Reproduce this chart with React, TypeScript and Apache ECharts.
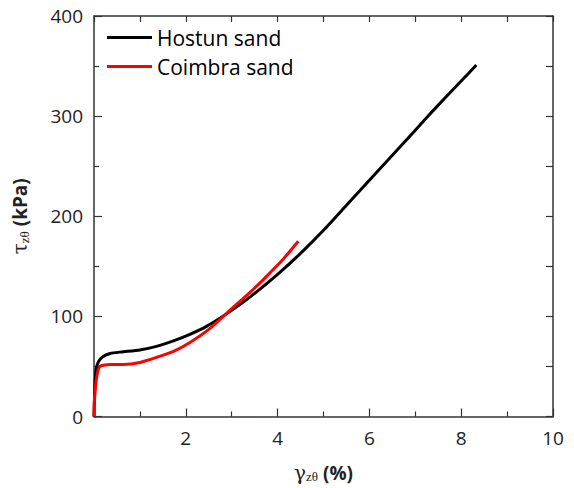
import React, { useEffect, useRef } from "react";
import * as echarts from "echarts";

const seriesNames = ["Hostun sand", "Coimbra sand"];
const hostunX = [0, 0.02, 0.05, 0.1, 0.2, 0.35, 0.6, 1.0, 1.36, 1.73, 2.09, 2.45, 3.03, 3.5, 4.0, 4.5, 5.0, 5.5, 6.0, 6.5, 7.0, 7.5, 8.0, 8.33];
const hostunY = [0, 30, 48, 55, 60, 63, 64.5, 66.5, 70, 75.5, 82, 90, 107, 123, 142, 163, 186, 211, 236, 261, 286, 311, 335, 351];
const coimbraX = [0, 0.01, 0.06, 0.13, 0.35, 0.64, 1.0, 1.36, 1.73, 2.09, 2.5, 3.03, 3.4, 3.76, 4.12, 4.45];
const coimbraY = [0, 17, 40, 50, 52, 52, 54, 59, 65, 74, 87, 109, 124, 140, 157, 175];
const xTicks = [0, 2, 4, 6, 8, 10];
const yTicks = [0, 100, 200, 300, 400];

const FONT = "'Open Sans', sans-serif";

export default function App() {
  const ref = useRef<HTMLDivElement>(null);
  useEffect(() => {
    if (!ref.current) return;
    const chart = echarts.init(ref.current, undefined, { renderer: "svg" });
    const axisColor = "#333333";
    const pair = (xs: number[], ys: number[]) => xs.map((x, i) => [x, ys[i]]);
    const subRich = {
      s: { fontFamily: "'Liberation Serif', serif", fontSize: 13, color: "#222", padding: [8, 0, 0, 0] },
      b: { fontFamily: FONT, fontSize: 19, fontWeight: "bold", color: "#222", lineHeight: 24 },
      g: { fontFamily: "'DejaVu Serif', serif", fontSize: 20, color: "#222", lineHeight: 24 },
    };
    chart.setOption({
      animation: false,
      backgroundColor: "#ffffff",
      grid: { left: 94, top: 16, right: 21, bottom: 71 },
      legend: {
        data: seriesNames,
        orient: "vertical",
        left: 107,
        top: 27,
        padding: 0,
        icon: "rect",
        itemWidth: 45,
        itemHeight: 3,
        itemGap: 8,
        textStyle: { fontFamily: FONT, fontSize: 21, color: "#000" },
      },
      xAxis: [
        {
          type: "value",
          min: 0,
          max: 10,
          interval: 2,
          name: "{g|γ}{s|zθ}{b| (%)}",
          nameLocation: "middle",
          nameGap: 44,
          nameTextStyle: { rich: subRich },
          axisLine: { show: true, onZero: false, lineStyle: { color: axisColor, width: 1.5 } },
          axisTick: { show: true, inside: true, length: 8, lineStyle: { color: axisColor, width: 1.2 } },
          minorTick: { show: true, splitNumber: 2, length: 5, lineStyle: { color: axisColor, width: 1.2 } },
          axisLabel: {
            fontFamily: FONT,
            fontSize: 19,
            color: "#222",
            margin: 12,
            formatter: (v: number) => (v === 0 || !xTicks.includes(v) ? "" : String(v)),
          },
          splitLine: { show: false },
        },
        {
          type: "value",
          position: "top",
          min: 0,
          max: 10,
          interval: 1,
          axisLine: { show: true, onZero: false, lineStyle: { color: axisColor, width: 1.5 } },
          axisTick: { show: true, inside: true, length: 6, lineStyle: { color: axisColor, width: 1.2 } },
          axisLabel: { show: false },
          splitLine: { show: false },
        },
      ],
      yAxis: [
        {
          type: "value",
          min: 0,
          max: 400,
          interval: 100,
          name: "{g|τ}{s|zθ}{b| (kPa)}",
          nameLocation: "middle",
          nameGap: 62,
          nameRotate: 90,
          nameTextStyle: { rich: subRich },
          axisLine: { show: true, onZero: false, lineStyle: { color: axisColor, width: 1.5 } },
          axisTick: { show: true, inside: true, length: 8, lineStyle: { color: axisColor, width: 1.2 } },
          minorTick: { show: true, splitNumber: 2, length: 5, lineStyle: { color: axisColor, width: 1.2 } },
          axisLabel: {
            fontFamily: FONT,
            fontSize: 19,
            color: "#222",
            margin: 11,
            formatter: (v: number) => (yTicks.includes(v) ? String(v) : ""),
          },
          splitLine: { show: false },
        },
        {
          type: "value",
          position: "right",
          min: 0,
          max: 400,
          interval: 50,
          axisLine: { show: true, onZero: false, lineStyle: { color: axisColor, width: 1.5 } },
          axisTick: { show: true, inside: true, length: 7, lineStyle: { color: axisColor, width: 1.2 } },
          axisLabel: { show: false },
          splitLine: { show: false },
        },
      ],
      series: [
        {
          name: seriesNames[0],
          type: "line",
          data: pair(hostunX, hostunY),
          showSymbol: false,
          smooth: 0.2,
          lineStyle: { color: "#000000", width: 3 },
          itemStyle: { color: "#000000" },
        },
        {
          name: seriesNames[1],
          type: "line",
          data: pair(coimbraX, coimbraY),
          showSymbol: false,
          smooth: 0.2,
          lineStyle: { color: "#ff0000", width: 3 },
          itemStyle: { color: "#ff0000" },
        },
      ],
    });
    return () => chart.dispose();
  }, []);
  return (
    <div
      ref={ref}
      style={{ position: "fixed", left: 0, top: 0, width: 574, height: 488, background: "#fff" }}
    />
  );
}
